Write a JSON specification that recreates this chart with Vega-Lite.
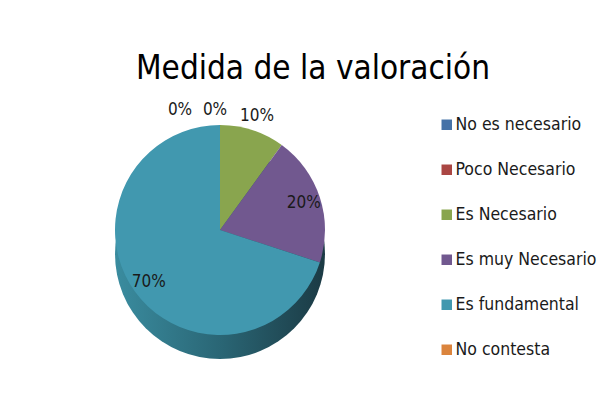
{
  "$schema": "https://vega.github.io/schema/vega-lite/v6.json",
  "width": 210,
  "height": 210,
  "autosize": {"type": "none"},
  "padding": {"left": 115, "top": 125, "right": 290, "bottom": 67},
  "background": "white",
  "title": {
    "text": "Medida de la valoración",
    "font": "DejaVu Sans Condensed, sans-serif",
    "fontSize": 33,
    "fontWeight": "normal",
    "color": "#000000",
    "anchor": "middle",
    "frame": "group",
    "baseline": "alphabetic",
    "dx": 93,
    "offset": -11
  },
  "data": {
    "values": [
      {"cat": "No es necesario", "pct": 0, "idx": 1},
      {"cat": "Poco Necesario", "pct": 0, "idx": 2},
      {"cat": "Es Necesario", "pct": 0.1, "idx": 3},
      {"cat": "Es muy Necesario", "pct": 0.2, "idx": 4},
      {"cat": "Es fundamental", "pct": 0.7, "idx": 5},
      {"cat": "No contesta", "pct": 0, "idx": 6}
    ]
  },
  "layer": [
    {
      "transform": [{"filter": "datum.idx == 5"}],
      "mark": {
        "type": "arc",
        "outerRadius": 105,
        "yOffset": 24,
        "theta": 0,
        "theta2": 6.2832,
        "fill": {
          "gradient": "linear",
          "x1": 0, "y1": 0, "x2": 1, "y2": 0,
          "stops": [
            {"offset": 0, "color": "#3a8c9f"},
            {"offset": 0.5, "color": "#2a6675"},
            {"offset": 1, "color": "#1b3a44"}
          ]
        }
      },
      "encoding": {}
    },
    {
      "mark": {"type": "arc", "outerRadius": 105},
      "encoding": {
        "theta": {"field": "pct", "type": "quantitative", "stack": true},
        "order": {"field": "idx", "type": "quantitative"},
        "color": {
          "field": "cat",
          "type": "nominal",
          "scale": {
            "domain": ["No es necesario", "Poco Necesario", "Es Necesario", "Es muy Necesario", "Es fundamental", "No contesta"],
            "range": ["#4572A7", "#AA4643", "#89A54E", "#71588F", "#4198AF", "#DB843D"]
          },
          "legend": {
            "title": null,
            "orient": "none",
            "legendX": 323,
            "legendY": -9,
            "symbolType": "square",
            "symbolSize": 110,
            "symbolStrokeWidth": 0,
            "labelFont": "DejaVu Sans Condensed, sans-serif",
            "labelFontSize": 17.5,
            "labelColor": "#1a1a1a",
            "labelOffset": 0,
            "rowPadding": 26,
            "labelLimit": 300
          }
        }
      }
    },
    {
      "mark": {"type": "text", "radius": 120, "dx": -40, "font": "DejaVu Sans Condensed, sans-serif", "fontSize": 17, "color": "#1a1a1a"},
      "encoding": {
        "theta": {"field": "pct", "type": "quantitative", "stack": true},
        "order": {"field": "idx", "type": "quantitative"},
        "text": {"condition": {"test": "datum.idx == 1", "field": "pct", "type": "quantitative", "format": ".0%"}, "value": ""}
      }
    },
    {
      "mark": {"type": "text", "radius": 120, "dx": -5, "font": "DejaVu Sans Condensed, sans-serif", "fontSize": 17, "color": "#1a1a1a"},
      "encoding": {
        "theta": {"field": "pct", "type": "quantitative", "stack": true},
        "order": {"field": "idx", "type": "quantitative"},
        "text": {"condition": {"test": "datum.idx == 2", "field": "pct", "type": "quantitative", "format": ".0%"}, "value": ""}
      }
    },
    {
      "mark": {"type": "text", "radius": 120, "font": "DejaVu Sans Condensed, sans-serif", "fontSize": 17, "color": "#1a1a1a"},
      "encoding": {
        "theta": {"field": "pct", "type": "quantitative", "stack": true},
        "order": {"field": "idx", "type": "quantitative"},
        "text": {"condition": {"test": "datum.idx == 3", "field": "pct", "type": "quantitative", "format": ".0%"}, "value": ""}
      }
    },
    {
      "mark": {"type": "text", "radius": 88, "font": "DejaVu Sans Condensed, sans-serif", "fontSize": 17, "color": "#1a1a1a"},
      "encoding": {
        "theta": {"field": "pct", "type": "quantitative", "stack": true},
        "order": {"field": "idx", "type": "quantitative"},
        "text": {"condition": {"test": "datum.idx == 4 || datum.idx == 5", "field": "pct", "type": "quantitative", "format": ".0%"}, "value": ""}
      }
    }
  ],
  "config": {
    "view": {"stroke": null}
  }
}
